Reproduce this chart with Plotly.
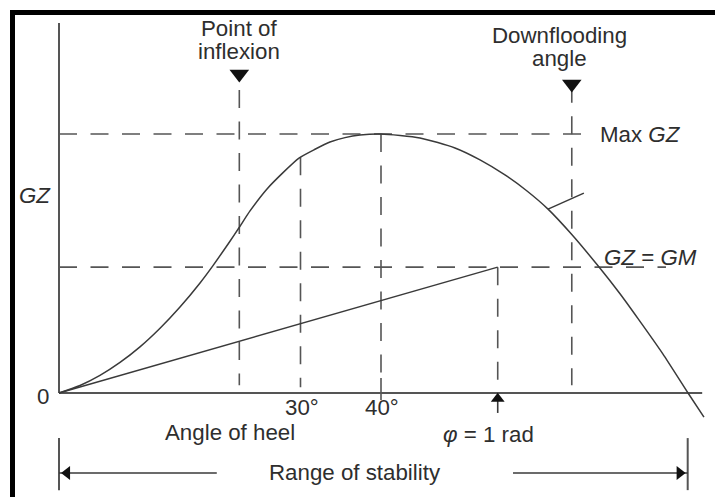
import plotly.graph_objects as go

# ---- data (schematic GZ curve) ----
heel_deg = [0, 2.61, 5.09, 7.58, 10.06, 12.55, 15.03, 17.52, 19.13, 21.24, 22.36,
            23.73, 25.84, 27.83, 29.81, 31.80, 33.66, 35.53, 37.39, 40.0,
            44.84, 49.19, 52.30, 55.40, 58.14, 60.75, 63.73, 66.96, 69.69, 71.93,
            75.03, 78.14, 80.12]
gz_values = [0, 0.029, 0.068, 0.118, 0.178, 0.250, 0.332, 0.425, 0.492, 0.586, 0.638,
             0.703, 0.788, 0.851, 0.907, 0.941, 0.969, 0.986, 0.996, 1.0,
             0.985, 0.946, 0.900, 0.842, 0.780, 0.710, 0.611, 0.491, 0.383, 0.287,
             0.150, 0.0, -0.093]

angle_inflexion = 22.4
angle_30 = 30
angle_40 = 40
angle_1rad = 54.5
angle_downflood = 63.7
angle_vanish = 78.1
gz_max = 1.0
gm = 0.486
gz_at_30 = 0.91
downflood_tick_x = [60.75, 65.2]
downflood_tick_y = [0.710, 0.772]
tick_labels = ["0", "30°", "40°"]

# ---- styling ----
FONT = "Liberation Sans, Arial, Helvetica, sans-serif"
FSIZE = 22.3
TXT = "#2e2e2e"
CURVE = "#3a3a3a"
DASHC = "#555555"
AXC = "#555555"
DASH = "18px,13.5px"

X_RANGE = [-7.329, 81.491]
Y_RANGE = [-0.4015, 1.5174]
X_END = 79.9
Y_END = 1.4286

fig = go.Figure()


def line(xs, ys, color=DASHC, width=1.6, dash=None):
    fig.add_trace(go.Scatter(x=xs, y=ys, mode="lines",
                             line=dict(color=color, width=width, dash=dash),
                             hoverinfo="skip", showlegend=False))


def marker(x, y, symbol, size, color="#111111"):
    fig.add_trace(go.Scatter(x=[x], y=[y], mode="markers",
                             marker=dict(symbol=symbol, size=size, color=color,
                                         line=dict(width=0)),
                             hoverinfo="skip", showlegend=False, cliponaxis=False))


# dashed guide lines
line([0, 64.9], [gz_max, gz_max], dash=DASH)                    # Max GZ
line([0, 75.4], [gm, gm], dash=DASH)                            # GZ = GM
line([angle_inflexion, angle_inflexion], [1.17, 0.03], dash=DASH)
line([angle_30, angle_30], [gz_at_30, 0.022], dash=DASH)
line([angle_40, angle_40], [gz_max, 0.03], dash=DASH)
line([angle_40, angle_40], [0.058, -0.027], width=1.6)          # tick at 40
line([angle_1rad, angle_1rad], [gm, 0.03], dash=DASH)
line([angle_downflood, angle_downflood], [1.19, 0.03], dash=DASH)

# axes
line([0, 0], [0, Y_END], color=AXC, width=2)
line([0, X_END], [0, 0], color=AXC, width=2)

# tangent GM line
line([0, angle_1rad], [0, gm], color=CURVE, width=1.5)

# GZ curve
fig.add_trace(go.Scatter(x=heel_deg, y=gz_values, mode="lines",
                         line=dict(color=CURVE, width=1.5, shape="spline", smoothing=0.6),
                         hoverinfo="skip", showlegend=False))

# downflooding tick
line(downflood_tick_x, downflood_tick_y, color=CURVE, width=1.5)

# markers at top
marker(angle_inflexion, 1.232, "triangle-down", 17)
marker(angle_downflood, 1.193, "triangle-down", 17)

# 1 rad arrow
line([angle_1rad, angle_1rad], [-0.077, -0.01], color=CURVE, width=1.6)
marker(angle_1rad, -0.022, "triangle-up", 12)

# range of stability
rs_y = -0.309
line([0, 0], [-0.174, -0.375], color=AXC, width=2)
line([angle_vanish, angle_vanish], [-0.174, -0.375], color=AXC, width=2)
line([0, 19.6], [rs_y, rs_y], color=CURVE, width=1.5)
line([56.4, angle_vanish], [rs_y, rs_y], color=CURVE, width=1.5)
marker(1.0, rs_y, "triangle-left", 12)
marker(angle_vanish - 1.0, rs_y, "triangle-right", 12)

annos = [
    ("Point of", angle_inflexion, 1.409),
    ("inflexion", angle_inflexion, 1.317),
    ("Downflooding", 62.2, 1.382),
    ("angle", 62.2, 1.290),
    ("<i>GZ</i>", -2.98, 0.764),
    ("Max <i>GZ</i>", 72.2, gz_max),
    ("<i>GZ</i> = <i>GM</i>", 73.5, 0.525),
    (tick_labels[0], -1.99, -0.015),
    (tick_labels[1], angle_30 + 0.2, -0.054),
    (tick_labels[2], angle_40 + 0.1, -0.054),
    ("Angle of heel", 21.2, -0.154),
    ("<i>φ</i> = 1 rad", 53.4, -0.162),
    ("Range of stability", 36.8, -0.305),
]
for text, x, y in annos:
    fig.add_annotation(x=x, y=y, xref="x", yref="y", text=text, showarrow=False,
                       xanchor="center", yanchor="middle",
                       font=dict(family=FONT, size=FSIZE, color=TXT))

# black frame (top and left)
fig.add_shape(type="rect", xref="paper", yref="paper",
              x0=12.5 / 715, x1=1.2, y0=-0.2, y1=1 - 12.5 / 497,
              line=dict(color="black", width=5), fillcolor="rgba(0,0,0,0)")

fig.update_layout(
    width=715, height=497,
    margin=dict(l=0, r=0, t=0, b=0),
    paper_bgcolor="white", plot_bgcolor="white",
    xaxis=dict(range=X_RANGE, visible=False, fixedrange=True),
    yaxis=dict(range=Y_RANGE, visible=False, fixedrange=True),
    showlegend=False,
)

fig.write_html("out.html",
               config={"displayModeBar": False, "staticPlot": True},
               post_script="document.body.style.margin='0';"
                           "document.body.style.overflow='hidden';")
